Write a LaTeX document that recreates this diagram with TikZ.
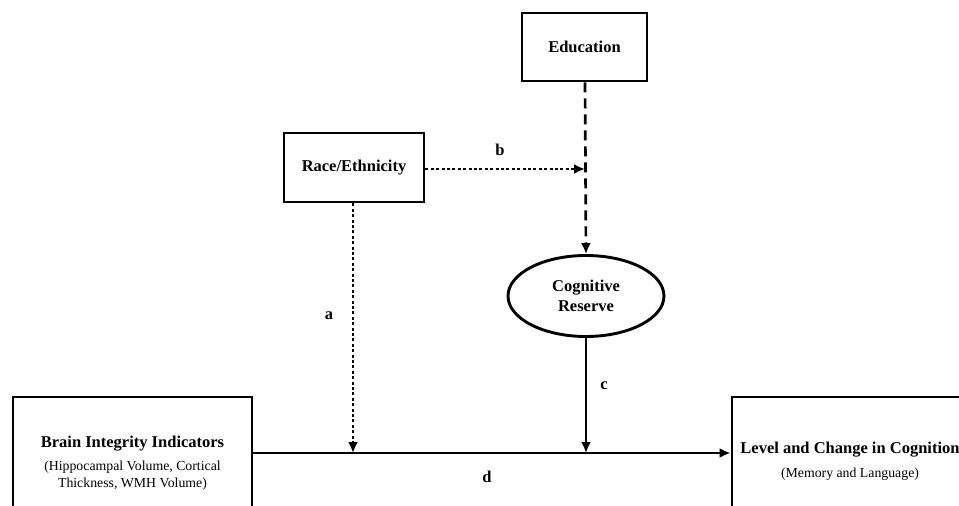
\documentclass[tikz,border=0pt]{standalone}
\usepackage{fontspec}
\setmainfont{Liberation Serif}
\usetikzlibrary{shapes.geometric,arrows.meta}
\newcommand{\subtxt}{\fontsize{13.8}{16}\selectfont\mdseries}
\tikzset{
  boxnode/.style={draw, line width=2.9pt, rectangle, inner sep=0pt, font=\fontsize{16.5}{19}\selectfont\bfseries, align=center},
  ovalnode/.style={draw, line width=2.9pt, ellipse, inner sep=0pt, font=\fontsize{16.5}{20}\selectfont\bfseries, align=center},
  lbl/.style={font=\fontsize{16.5}{19}\selectfont\bfseries, inner sep=0pt},
  conn/.style={line width=2.7pt, -{Latex[length=11pt,width=10pt]}},
  dotline/.style={conn, dash pattern=on 2.9pt off 2.5pt},
  dashline/.style={conn, dash pattern=on 10pt off 6pt},
}
\begin{document}
\begin{tikzpicture}[x=1pt,y=-1pt]
\useasboundingbox (0,0) rectangle (959,506);
\clip (0,0) rectangle (959,506);
\node[boxnode, minimum width=125pt, minimum height=68pt] (edu) at (584.5,47) {Education};
\node[boxnode, minimum width=140pt, minimum height=69pt] (race) at (354,167.5) {Race/Ethnicity};
\node[ovalnode, minimum width=156pt, minimum height=81pt] (cr) at (586,296) {Cognitive\\Reserve};
\node[boxnode, minimum width=239pt, minimum height=133pt] (brain) at (132.5,463.5)
  {Brain Integrity Indicators\\[4pt]{\subtxt (Hippocampal Volume, Cortical}\\[-2pt]{\subtxt Thickness, WMH Volume)}};
\node[boxnode, minimum width=236pt, minimum height=129pt] (level) at (850,461.5)
  {Level and Change in Cognition\\[5pt]{\subtxt (Memory and Language)}};
\coordinate (ja) at (353,453);
\coordinate (jc) at (586,453);
\coordinate (jb) at (585,169);
\draw[conn] (brain.east |- ja) -- (level.west |- ja);
\draw[dotline] (race.south -| ja) -- (ja);
\draw[dotline] (race.east |- jb) -- (jb);
\draw[dashline] (edu.south -| jb) -- (cr.north);
\draw[conn] (cr.south -| jc) -- (jc);
\node[lbl] (la) at (329,316) {a};
\node[lbl] (lb) at (500,150) {b};
\node[lbl] (lc) at (604,386) {c};
\node[lbl] (ld) at (487,477) {d};
\end{tikzpicture}
\end{document}
